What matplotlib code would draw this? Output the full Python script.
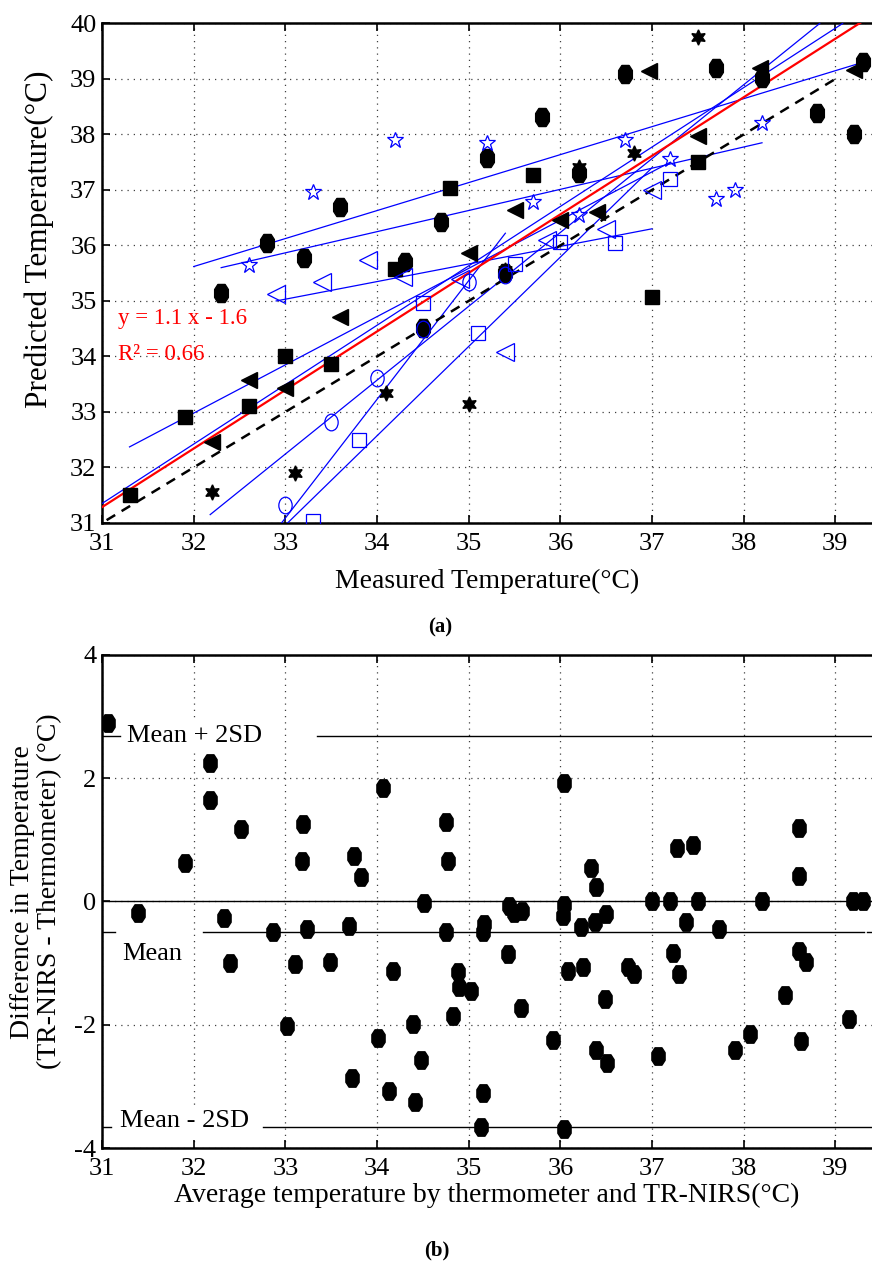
import numpy as np
import matplotlib
matplotlib.use("Agg")
import matplotlib.pyplot as plt
from matplotlib.path import Path

plt.rcParams["font.family"] = ["Liberation Serif", "DejaVu Serif"]
plt.rcParams["axes.unicode_minus"] = False

# ---------------------------------------------------------------------------
# (a) predicted vs measured, one marker group per subject
# ---------------------------------------------------------------------------
SQ_X = [31.3, 31.9, 32.6, 33.0, 33.5, 34.2, 34.8, 35.7, 37.0, 37.5]
SQ_Y = [31.5, 32.9, 33.1, 34.0, 33.87, 35.58, 37.04, 37.27, 35.07, 37.5]

CIRC_X = [32.3, 32.8, 33.2, 33.6, 34.3, 34.5, 34.7, 35.2, 35.4, 35.8, 36.2,
          36.7, 37.7, 38.2, 38.8, 39.2, 39.3]
CIRC_Y = [35.15, 36.04, 35.77, 36.7, 35.7, 34.51, 36.42, 37.57, 35.5, 38.31,
          37.3, 39.09, 39.2, 39.02, 38.38, 38.0, 39.3]

TRI_X = [32.2, 32.6, 33.0, 33.6, 35.0, 35.5, 36.0, 36.4, 36.97, 37.5, 38.18, 39.2]
TRI_Y = [32.46, 33.58, 33.43, 34.71, 35.86, 36.64, 36.46, 36.6, 39.15, 37.98,
         39.2, 39.16]

HEX_X = [32.2, 33.1, 34.1, 35.0, 35.4, 36.2, 36.8, 37.5]
HEX_Y = [31.56, 31.9, 33.34, 33.14, 35.55, 37.41, 37.66, 39.76]

STAR_X = [32.6, 33.3, 34.2, 35.2, 35.7, 36.2, 36.7, 37.2, 37.7, 37.9, 38.2]
STAR_Y = [35.65, 36.97, 37.9, 37.85, 36.79, 36.55, 37.9, 37.55, 36.83, 37.0, 38.21]

OTRI_X = [32.9, 33.4, 33.9, 34.28, 34.9, 35.4, 35.85, 36.5, 37.0]
OTRI_Y = [35.12, 35.34, 35.74, 35.43, 35.4, 34.08, 36.1, 36.3, 37.0]

OSQ_X = [33.3, 33.8, 34.5, 35.1, 35.5, 36.0, 36.6, 37.2]
OSQ_Y = [31.03, 32.5, 34.96, 34.42, 35.66, 36.07, 36.05, 37.2]

OCIRC_X = [33.0, 33.5, 34.0, 34.5, 35.0, 35.4]
OCIRC_Y = [31.33, 32.82, 33.61, 34.5, 35.34, 35.47]

# per-subject fit lines: (x_start, x_end), (y_start, y_end)
FIT_X = [(32.0, 39.3), (32.3, 38.2), (32.9, 37.0), (31.3, 37.2),
         (31.0, 39.08), (32.18, 38.83), (33.0, 37.0), (32.94, 35.4)]
FIT_Y = [(35.62, 39.3), (35.6, 37.85), (35.0, 36.3), (32.37, 37.5),
         (31.35, 40.0), (31.15, 40.0), (30.96, 37.4), (30.96, 36.22)]

# overall regression as drawn, and identity line
REG_SLOPE, REG_ICPT = 1.055, -1.42
IDENT_X = [31.05, 39.05]

# ---------------------------------------------------------------------------
# (b) Bland-Altman
# ---------------------------------------------------------------------------
BA_X = [31.07, 31.39, 31.9, 32.18, 32.18, 32.52, 32.33, 32.86, 33.19, 33.18, 33.24,
        33.69, 33.75, 33.83, 34.07, 34.51, 34.75, 34.77, 34.75, 35.17, 35.16,
        35.44, 35.49, 35.58, 36.04, 36.04, 36.03, 36.22, 36.33, 36.39, 36.38, 36.5,
        37.0, 37.27, 37.45, 37.2, 37.5, 37.37, 37.73, 38.2, 38.6, 38.6, 39.19, 39.3,
        32.4, 33.11, 33.49, 34.17, 34.88, 34.89, 35.03, 34.83, 33.02, 34.39, 34.01,
        34.48, 33.73, 34.13, 34.41, 35.16, 35.13,
        35.43, 35.57, 35.92, 36.08, 36.25, 36.49, 36.39, 36.51, 36.74, 36.8, 37.06,
        37.23, 37.29, 37.9, 38.07, 38.45, 38.6, 38.68, 38.63, 39.15, 36.04]
BA_Y = [2.9, -0.18, 0.63, 2.25, 1.65, 1.18, -0.26, -0.5, 1.25, 0.66, -0.45,
        -0.39, 0.73, 0.39, 1.84, -0.02, 1.29, 0.66, -0.5, -0.37, -0.5,
        -0.08, -0.18, -0.16, 1.92, -0.05, -0.24, -0.41, 0.55, 0.23, -0.34, -0.2,
        0.0, 0.87, 0.91, 0.0, 0.0, -0.34, -0.44, 0.0, 1.2, 0.42, 0.0, 0.0,
        -0.99, -1.02, -0.98, -1.13, -1.15, -1.38, -1.45, -1.86, -2.02, -1.99, -2.22,
        -2.58, -2.86, -3.07, -3.25, -3.1, -3.66,
        -0.86, -1.73, -2.25, -1.13, -1.07, -1.59, -2.41, -2.62, -1.07, -1.18, -2.51,
        -0.84, -1.18, -2.41, -2.15, -1.52, -0.8, -0.98, -2.27, -1.91, -3.69]

MEAN_DIFF = -0.5
UPPER_LOA = 2.69
LOWER_LOA = -3.66
# visible pieces of each reference line (gaps where the labels sit)
MEAN_SEGS = [(31.0, 31.14), (32.1, 39.31), (39.35, 39.4)]
UPPER_SEGS = [(31.0, 31.2), (33.34, 39.4)]
LOWER_SEGS = [(31.0, 31.1), (32.76, 39.4)]

XTICKS = list(range(31, 40))
YTICKS_A = list(range(31, 41))
YTICKS_B = [-4, -2, 0, 2, 4]

BLUE = "#0000FF"
# tall octagon (MATLAB-style filled circle) and tall ellipse
OCT = Path([(-0.38, -0.22), (-0.38, 0.22), (-0.2, 0.5), (0.2, 0.5),
            (0.38, 0.22), (0.38, -0.22), (0.2, -0.5), (-0.2, -0.5),
            (-0.38, -0.22)], closed=True)
_c = Path.unit_circle()
ELL = Path(_c.vertices * [0.8, 1.0], _c.codes)
HEXAGRAM = (6, 1, 0)
GRID_KW = dict(color="0.25", linestyle=(0, (1, 4)), linewidth=0.9)


def style_axes(ax, yticks):
    ax.set_xlim(31, 39.4)
    ax.set_xticks(XTICKS)
    ax.set_yticks(yticks)
    ax.tick_params(direction="in", length=6, width=1.2, labelsize=19,
                   top=True, right=False)
    ax.tick_params(axis="x", pad=7)
    ax.tick_params(axis="y", pad=4)
    for side in ("left", "bottom", "top"):
        ax.spines[side].set_linewidth(1.8)
    ax.spines["right"].set_visible(False)
    ax.grid(True, **GRID_KW)
    ax.set_axisbelow(True)


fig = plt.figure(figsize=(8.72, 12.61), dpi=100)
ax1 = fig.add_axes([0.117, 0.5853, 0.883, 0.3961])
ax2 = fig.add_axes([0.117, 0.0896, 0.883, 0.391])

# --- panel (a) ---
style_axes(ax1, YTICKS_A)
ax1.set_ylim(31, 40)

for xs, ys in zip(FIT_X, FIT_Y):
    ax1.plot(xs, ys, color=BLUE, lw=0.9, zorder=3)
xr = np.array([31.0, 39.4])
ax1.plot(xr, REG_SLOPE * xr + REG_ICPT, color="red", lw=1.6, zorder=4)
ax1.plot(IDENT_X, IDENT_X, color="black", lw=1.8, dashes=(4, 3), zorder=4)

ax1.plot(SQ_X, SQ_Y, "s", color="black", ms=10, ls="none", zorder=5)
ax1.plot(CIRC_X, CIRC_Y, marker=OCT, color="black", ms=13, ls="none", zorder=5)
ax1.plot(TRI_X, TRI_Y, "<", color="black", ms=12, ls="none", zorder=5)
ax1.plot(HEX_X, HEX_Y, marker=HEXAGRAM, color="black", ms=11, ls="none", zorder=5)
ax1.plot(STAR_X, STAR_Y, "*", mfc="none", mec=BLUE, mew=0.9, ms=12, ls="none", zorder=5)
ax1.plot(OTRI_X, OTRI_Y, "<", mfc="none", mec=BLUE, mew=0.9, ms=13, ls="none", zorder=5)
ax1.plot(OSQ_X, OSQ_Y, "s", mfc="none", mec=BLUE, mew=0.9, ms=10, ls="none", zorder=5)
ax1.plot(OCIRC_X, OCIRC_Y, marker=ELL, mfc="none", mec=BLUE, mew=0.9, ms=12,
         ls="none", zorder=5)

ax1.text(31.17, 34.69, "y = 1.1 x - 1.6", color="red", fontsize=16.5,
         ha="left", va="center")
ax1.text(31.17, 34.03, "R² = 0.66", color="red", fontsize=16.5,
         ha="left", va="center")
ax1.set_xlabel("Measured Temperature(°C)", fontsize=20, labelpad=10)
ax1.set_ylabel("Predicted Temperature(°C)", fontsize=22.5)
ax1.yaxis.set_label_coords(-0.063, 0.568)
fig.text(0.505, 1 - 627 / 1261, "(a)", fontsize=15, fontweight="bold",
         ha="center", va="center")

# --- panel (b) ---
style_axes(ax2, YTICKS_B)
ax2.set_ylim(-4, 4)
ax2.axhline(0, color="black", lw=1.0, zorder=2)
for level, segs in ((UPPER_LOA, UPPER_SEGS), (MEAN_DIFF, MEAN_SEGS),
                    (LOWER_LOA, LOWER_SEGS)):
    for x0, x1 in segs:
        ax2.plot([x0, x1], [level, level], color="black", lw=1.0, zorder=2)

box = dict(facecolor="white", edgecolor="none", pad=3)
ax2.text(31.27, UPPER_LOA, "Mean + 2SD", fontsize=19, ha="left", va="center",
         bbox=box, zorder=3)
ax2.text(31.22, -0.86, "Mean", fontsize=19, ha="left", va="center",
         bbox=box, zorder=3)
ax2.text(31.2, -3.56, "Mean - 2SD", fontsize=19, ha="left", va="center",
         bbox=box, zorder=3)

ax2.plot(BA_X, BA_Y, marker=OCT, color="black", ms=12.5, ls="none", zorder=5)

ax2.set_xlabel("Average temperature by thermometer and TR-NIRS(°C)",
               fontsize=20, labelpad=2)
ax2.set_ylabel("Difference in Temperature\n(TR-NIRS - Thermometer) (°C)",
               fontsize=20, linespacing=1.1)
ax2.yaxis.set_label_coords(-0.052, 0.52)
fig.text(0.501, 1 - 1250 / 1261, "(b)", fontsize=15, fontweight="bold",
         ha="center", va="center")

fig.savefig("out.png", dpi=100, facecolor="white")
